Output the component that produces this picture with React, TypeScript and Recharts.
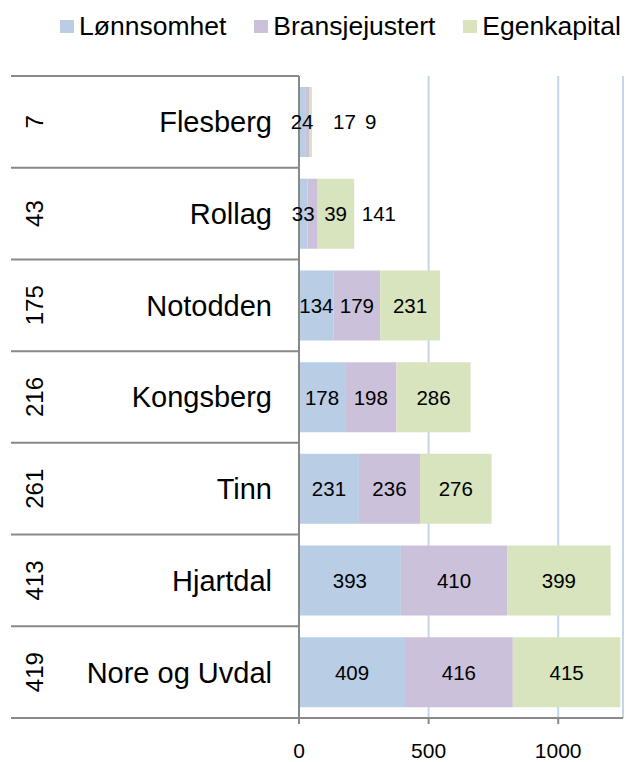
import React from "react";
import {
  BarChart,
  Bar,
  XAxis,
  YAxis,
  CartesianGrid,
  Legend,
  LabelList,
} from "recharts";

const municipalities = [
  "Flesberg",
  "Rollag",
  "Notodden",
  "Kongsberg",
  "Tinn",
  "Hjartdal",
  "Nore og Uvdal",
];
const ranks = [7, 43, 175, 216, 261, 413, 419];
const lonnsomhet = [24, 33, 134, 178, 231, 393, 409];
const bransjejustert = [17, 39, 179, 198, 236, 410, 416];
const egenkapital = [9, 141, 231, 286, 276, 399, 415];
const xTicks = [0, 500, 1000];

const SERIES = [
  { key: "lonnsomhet", name: "Lønnsomhet", color: "#b9cde5" },
  { key: "bransjejustert", name: "Bransjejustert", color: "#ccc1da" },
  { key: "egenkapital", name: "Egenkapital", color: "#d7e4bd" },
];

// labels that were pushed right of the bar in the original, px per series
const LABEL_SHIFT: Record<string, number[]> = {
  Flesberg: [0, 37, 60],
  Rollag: [0, 23, 43],
};

const FONT = '"Liberation Sans", Arial, Helvetica, sans-serif';
const GRAY = "#898989";
const W = 626;
const H = 762;
const TOP = 76;
const BOTTOM_AXIS = 44;
const AXIS_X = 299;
const ROW_H = (H - BOTTOM_AXIS - TOP) / municipalities.length;

const data = municipalities.map((name, i) => ({
  name,
  rank: ranks[i],
  lonnsomhet: lonnsomhet[i],
  bransjejustert: bransjejustert[i],
  egenkapital: egenkapital[i],
}));

function CategoryTick(props: any) {
  const { y, payload, index } = props;
  const rank = ranks[index];
  const half = ROW_H / 2;
  return (
    <g>
      {index === 0 && (
        <line x1={11} x2={AXIS_X} y1={y - half} y2={y - half} stroke={GRAY} strokeWidth={2} />
      )}
      <line x1={11} x2={AXIS_X} y1={y + half} y2={y + half} stroke={GRAY} strokeWidth={2} />
      <text
        x={272}
        y={y}
        dy="0.36em"
        textAnchor="end"
        fontSize={29}
        fontFamily={FONT}
        fill="#000"
      >
        {payload.value}
      </text>
      <text
        x={34}
        y={y}
        dy="0.36em"
        textAnchor="middle"
        fontSize={24}
        fontFamily={FONT}
        fill="#000"
        transform={`rotate(-90, 34, ${y})`}
      >
        {rank}
      </text>
    </g>
  );
}

function makeLabel(seriesIdx: number) {
  return (props: any) => {
    const { x, y, width, height, value, index } = props;
    const shift = LABEL_SHIFT[municipalities[index]]?.[seriesIdx] ?? 0;
    return (
      <text
        x={x + width / 2 + shift}
        y={y + height / 2}
        dy="0.36em"
        textAnchor="middle"
        fontSize={20.5}
        fontFamily={FONT}
        fill="#000"
      >
        {value}
      </text>
    );
  };
}

function LegendContent() {
  return (
    <div style={{ display: "flex", alignItems: "center", fontFamily: FONT, fontSize: 26.5, lineHeight: "27px" }}>
      {SERIES.map((s, i) => (
        <div key={s.key} style={{ display: "flex", alignItems: "center", marginRight: i < 2 ? 28 : 0 }}>
          <span style={{ display: "inline-block", width: 14, height: 13, background: s.color, marginRight: 5 }} />
          <span style={{ color: "#000", whiteSpace: "nowrap" }}>{s.name}</span>
        </div>
      ))}
    </div>
  );
}

export default function App() {
  return (
    <div style={{ position: "absolute", left: 0, top: 0, width: W, height: H, background: "#fff" }}>
      <BarChart
        width={W}
        height={H}
        data={data}
        layout="vertical"
        margin={{ top: TOP, right: 3, bottom: 0, left: 0 }}
        barCategoryGap="12%"
      >
        <CartesianGrid horizontal={false} stroke="#c6d6ea" strokeWidth={2} />
        <XAxis
          type="number"
          domain={[0, 1250]}
          ticks={xTicks}
          height={BOTTOM_AXIS}
          axisLine={{ stroke: GRAY, strokeWidth: 2 }}
          tickLine={{ stroke: GRAY, strokeWidth: 2 }}
          tickSize={6}
          tickMargin={19}
          tick={{ fontSize: 21, fill: "#000", fontFamily: FONT }}
          allowDataOverflow
        />
        <YAxis
          type="category"
          dataKey="name"
          width={AXIS_X}
          axisLine={{ stroke: GRAY, strokeWidth: 2 }}
          tickLine={false}
          tick={<CategoryTick />}
          interval={0}
        />
        <Legend
          layout="horizontal"
          verticalAlign="middle"
          align="center"
          wrapperStyle={{ top: 13, left: 60, width: "auto" }}
          content={<LegendContent />}
        />
        {SERIES.map((s, i) => (
          <Bar
            key={s.key}
            dataKey={s.key}
            name={s.name}
            stackId="a"
            fill={s.color}
            isAnimationActive={false}
          >
            <LabelList dataKey={s.key} content={makeLabel(i)} />
          </Bar>
        ))}
      </BarChart>
    </div>
  );
}
